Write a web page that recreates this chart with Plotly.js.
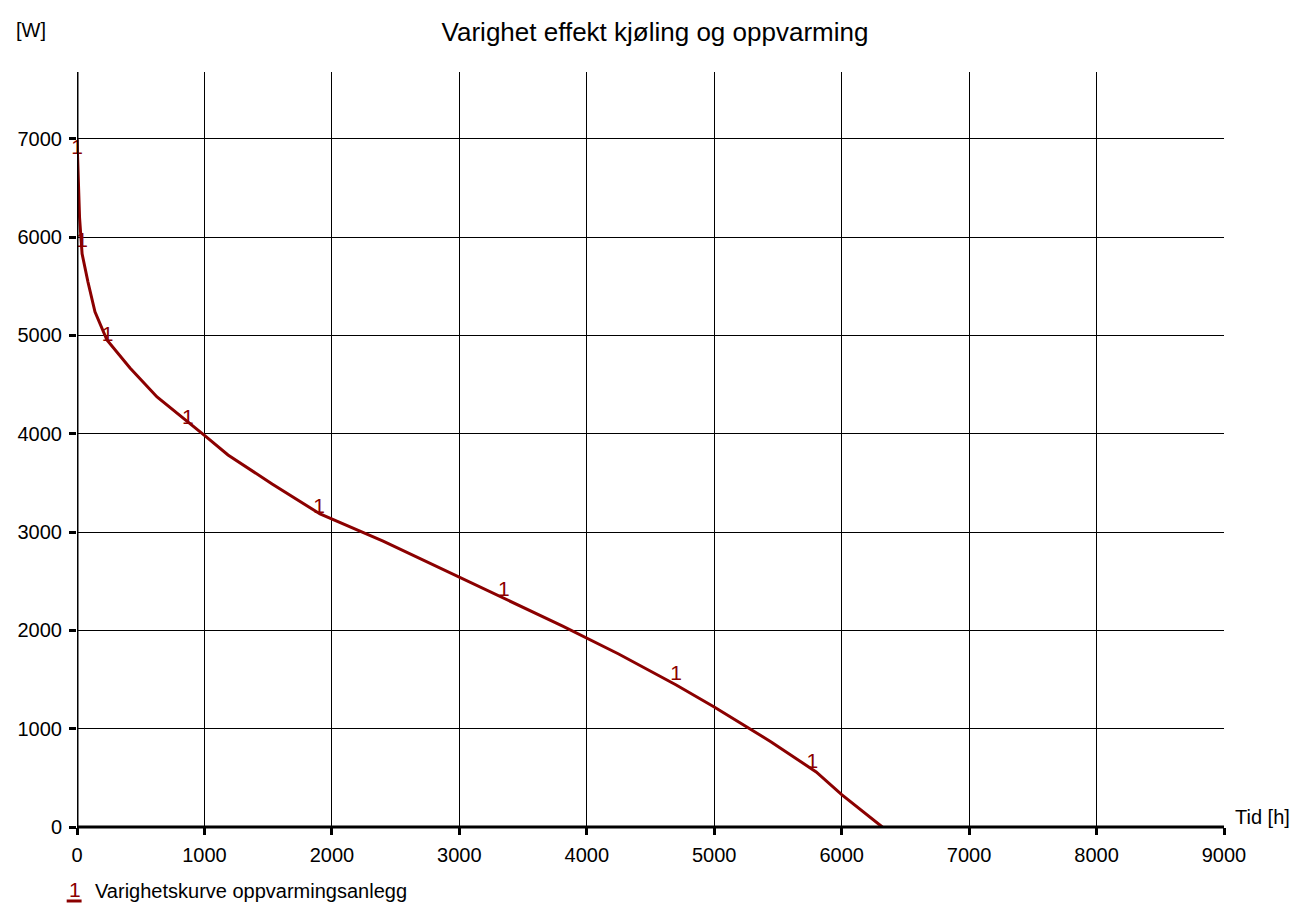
<!DOCTYPE html>
<html>
<head>
<meta charset="utf-8">
<script src="https://cdn.plot.ly/plotly-3.0.1.min.js"></script>
<style>body{margin:0;background:#fff}#plot{width:1310px;height:909px}</style>
</head>
<body>
<div id="plot"></div>
<script>
const hours = [0, 10, 20, 40, 86, 141, 235, 416, 628, 1005, 1185, 1531, 1907, 2402, 2900, 3344, 3807, 4250, 4702, 5000, 5447, 5800, 6000, 6319];
const watts = [7000, 6500, 6200, 5830, 5544, 5240, 4954, 4670, 4374, 3978, 3784, 3490, 3184, 2909, 2600, 2330, 2045, 1760, 1444, 1220, 865, 560, 330, 0];

const labelHours = [0, 40, 240, 870, 1900, 3350, 4700, 5770];
const labelWatts = [6900, 5950, 5000, 4150, 3250, 2400, 1550, 650];

const red = '#8b0000';

const data = [
    {
        x: hours, y: watts, mode: 'lines', type: 'scatter',
        line: {color: red, width: 3}, showlegend: false
    },
    {
        x: labelHours, y: labelWatts, mode: 'text', type: 'scatter',
        text: labelHours.map(() => '1'),
        textfont: {color: red, size: 21},
        showlegend: false, cliponaxis: false
    }
];

const layout = {
    width: 1310, height: 909,
    margin: {l: 77, r: 86, t: 72, b: 82},
    font: {family: 'Liberation Sans, Arial, sans-serif', size: 20, color: '#000'},
    paper_bgcolor: '#fff', plot_bgcolor: '#fff',
    showlegend: false,
    title: {text: 'Varighet effekt kjøling og oppvarming', x: 0.5, y: 0.975, font: {size: 26}},
    xaxis: {
        range: [0, 9000], dtick: 1000, showgrid: true, gridcolor: '#000', gridwidth: 1,
        zeroline: false, showline: false, ticks: 'outside', ticklen: 7, tickwidth: 3,
        tickcolor: '#000', fixedrange: true, ticklabelstandoff: 3
    },
    yaxis: {
        range: [0, 7680], dtick: 1000, showgrid: true, gridcolor: '#000', gridwidth: 1,
        zeroline: false, showline: false, ticks: 'outside', ticklen: 7, tickwidth: 3,
        tickcolor: '#000', fixedrange: true, ticklabelstandoff: 3
    },
    shapes: [
        {type: 'line', xref: 'x', yref: 'paper', x0: 0, x1: 0, y0: 0, y1: 1, line: {color: '#000', width: 3}},
        {type: 'line', xref: 'paper', yref: 'paper', x0: 0, x1: 1, y0: 0, y1: 0, line: {color: '#000', width: 3}},
        {type: 'line', xref: 'paper', yref: 'paper', x0: -0.009, x1: 0.004, y0: -0.098, y1: -0.098, line: {color: red, width: 3}}
    ],
    annotations: [
        {text: '[W]', xref: 'paper', yref: 'paper', x: -0.055, y: 1.055, xanchor: 'left', yanchor: 'middle', showarrow: false, font: {size: 20}},
        {text: 'Tid [h]', xref: 'paper', yref: 'paper', x: 1.008, y: 0.013, xanchor: 'left', yanchor: 'middle', showarrow: false, font: {size: 20}},
        {text: '1', xref: 'paper', yref: 'paper', x: -0.002, y: -0.1, xanchor: 'center', yanchor: 'bottom', showarrow: false, font: {size: 21, color: red}},
        {text: 'Varighetskurve oppvarmingsanlegg', xref: 'paper', yref: 'paper', x: 0.014, y: -0.085, xanchor: 'left', yanchor: 'middle', showarrow: false, font: {size: 20}}
    ]
};

Plotly.newPlot('plot', data, layout, {displayModeBar: false});
</script>
</body>
</html>
